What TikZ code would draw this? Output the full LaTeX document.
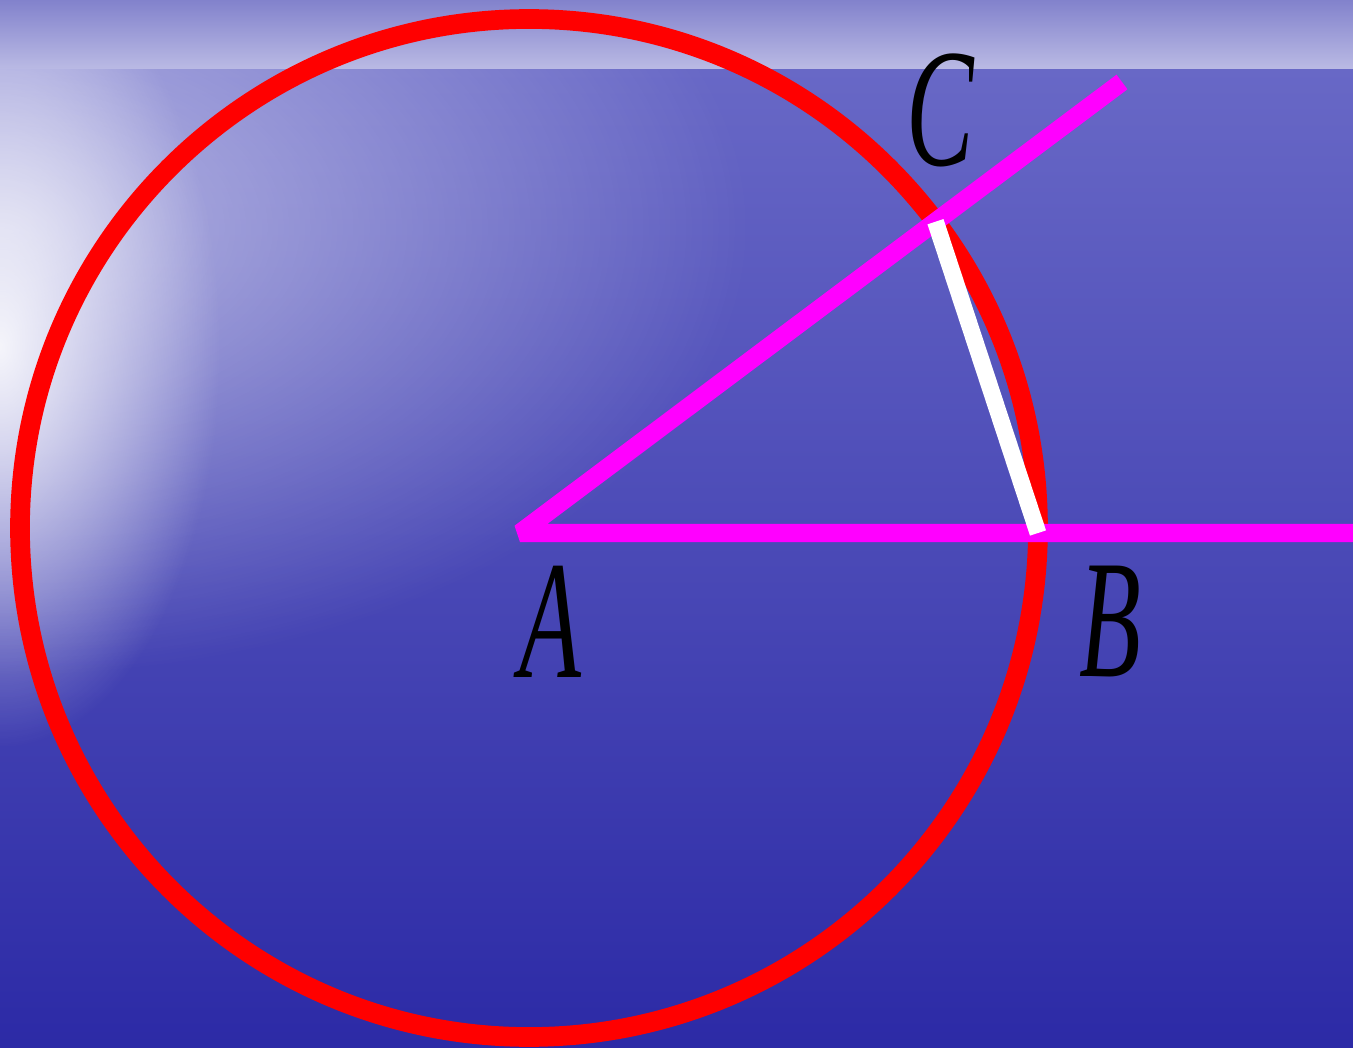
\documentclass[tikz,border=0pt]{standalone}
\usepackage{fontspec}
\newfontfamily\ptfont{Liberation Serif}[ItalicFont={Liberation Serif Italic}]
\usepackage{tikz}
\usetikzlibrary{arrows.meta,positioning,calc,fadings}
\definecolor{SeaTop}{RGB}{104,104,198}
\definecolor{SeaMid}{RGB}{58,56,176}
\definecolor{SeaDeep}{RGB}{44,42,166}
\definecolor{SkyTop}{RGB}{130,130,204}
\definecolor{SkyHorizon}{RGB}{186,186,228}
\definecolor{CircleRed}{RGB}{255,0,0}
\definecolor{RayMagenta}{RGB}{255,0,255}
\tikzfading[name=glowfade,inner color=transparent!10,outer color=transparent!100]
\tikzfading[name=hazefade,inner color=transparent!45,outer color=transparent!100]

\begin{document}
\begin{tikzpicture}[>=Stealth,thick,
  ray/.style={RayMagenta,line width=5.2pt},
  ptlabel/.style={font=\ptfont\fontsize{48}{48}\selectfont\itshape,xscale=0.6,inner sep=0pt}]
\useasboundingbox (0,0) rectangle (13.53,10.47);
\clip (0,0) rectangle (13.53,10.47);
% background: sea and sky
\shade[top color=SeaTop,middle color=SeaMid,bottom color=SeaDeep] (0,0) rectangle (13.53,9.78);
\fill[white,path fading=hazefade] (0,8.2) ellipse (7.5 and 4.5);
\fill[white,path fading=glowfade] (0,7.0) ellipse (2.2 and 4.0);
\shade[top color=SkyTop,bottom color=SkyHorizon] (0,9.78) rectangle (13.53,10.47);
% points
\coordinate (O) at (5.29,5.19);
\coordinate (A) at (5.20,5.14);
\coordinate (B) at (10.38,5.14);
\coordinate (C) at (9.355,8.253);
\coordinate (E) at (13.60,5.14);
\coordinate (D) at (11.22,9.65);
% circle, rays and chord
\draw[CircleRed,line width=5.6pt] (O) circle (5.09);
\draw[ray,line join=bevel] (D) -- (A) -- (E);
\draw[white,line width=4.8pt] (C) -- (B);
\node[ptlabel] (labA) at (5.50,4.25) {A};
\node[ptlabel] (labB) at (11.10,4.25) {B};
\node[ptlabel] (labC) at (9.40,9.37) {C};
\end{tikzpicture}
\end{document}
